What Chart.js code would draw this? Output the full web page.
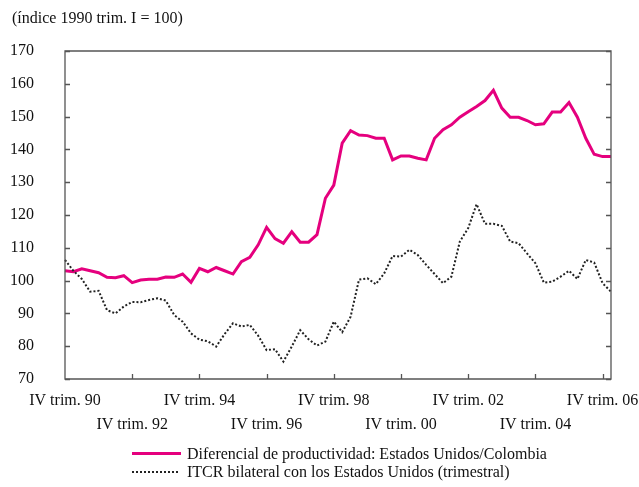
<!DOCTYPE html>
<html><head><meta charset="utf-8">
<script src="https://cdn.jsdelivr.net/npm/chart.js@4/dist/chart.umd.min.js"></script>
<style>
html,body{margin:0;padding:0;background:#fff;}
#wrap{position:relative;width:639px;height:487px;font-family:"Liberation Serif","Times New Roman",serif;color:#111;overflow:hidden;}
#c{position:absolute;left:0;top:0;}
.t{position:absolute;font-size:16px;line-height:20px;white-space:nowrap;}
.sw{position:absolute;}
</style></head>
<body>
<div id="wrap">
<canvas id="c" width="639" height="487"></canvas>
<div class="t" id="title" style="left:12px;top:8px;">(índice 1990 trim. I = 100)</div>
<div class="sw" style="left:132px;top:452px;width:49px;height:3px;background:#e5007e;"></div>
<div class="t" id="leg1" style="left:187px;top:444px;"></div>
<div class="sw" style="left:132px;top:471px;width:48px;height:2px;background:repeating-linear-gradient(to right,#222 0 2px,transparent 2px 4px);"></div>
<div class="t" id="leg2" style="left:187px;top:462px;"></div>
</div>
<script>
const seriesNames = [
  "Diferencial de productividad: Estados Unidos/Colombia",
  "ITCR bilateral con los Estados Unidos (trimestral)"
];
const categories = [
  "IV trim. 90","I trim. 91","II trim. 91","III trim. 91","IV trim. 91",
  "I trim. 92","II trim. 92","III trim. 92","IV trim. 92",
  "I trim. 93","II trim. 93","III trim. 93","IV trim. 93",
  "I trim. 94","II trim. 94","III trim. 94","IV trim. 94",
  "I trim. 95","II trim. 95","III trim. 95","IV trim. 95",
  "I trim. 96","II trim. 96","III trim. 96","IV trim. 96",
  "I trim. 97","II trim. 97","III trim. 97","IV trim. 97",
  "I trim. 98","II trim. 98","III trim. 98","IV trim. 98",
  "I trim. 99","II trim. 99","III trim. 99","IV trim. 99",
  "I trim. 00","II trim. 00","III trim. 00","IV trim. 00",
  "I trim. 01","II trim. 01","III trim. 01","IV trim. 01",
  "I trim. 02","II trim. 02","III trim. 02","IV trim. 02",
  "I trim. 03","II trim. 03","III trim. 03","IV trim. 03",
  "I trim. 04","II trim. 04","III trim. 04","IV trim. 04",
  "I trim. 05","II trim. 05","III trim. 05","IV trim. 05",
  "I trim. 06","II trim. 06","III trim. 06","IV trim. 06",
  "I trim. 07"
];
const tickLabelsRow1 = ["IV trim. 90","IV trim. 94","IV trim. 98","IV trim. 02","IV trim. 06"];
const tickLabelsRow2 = ["IV trim. 92","IV trim. 96","IV trim. 00","IV trim. 04"];
const productividad = [
  103.0,102.7,103.6,103.0,102.4,101.0,100.9,101.5,99.4,
  100.2,100.4,100.4,101.1,101.0,102.0,99.5,103.7,
  102.7,104.0,103.0,102.0,105.8,107.1,110.9,116.2,
  112.8,111.4,114.9,111.7,111.7,114.0,125.1,129.1,
  141.9,145.7,144.4,144.2,143.4,143.4,136.8,138.0,
  138.0,137.3,136.8,143.4,146.0,147.5,149.8,151.5,
  153.1,154.9,158.0,152.6,149.8,149.8,148.8,147.5,
  147.8,151.4,151.4,154.3,149.8,143.4,138.5,137.8,
  137.8
];
const itcr = [
  106.3,103.0,100.5,96.6,96.9,91.0,90.0,92.1,93.5,
  93.4,94.1,94.6,93.9,89.5,87.5,83.9,82.0,
  81.5,79.9,83.7,87.0,86.0,86.5,83.2,78.8,
  79.1,75.3,79.9,84.9,82.1,80.2,81.4,87.5,
  84.3,89.0,100.3,100.7,98.9,102.2,107.5,107.3,
  109.4,107.8,104.8,102.0,99.2,101.2,111.9,116.0,
  123.3,117.3,117.3,116.7,111.9,111.4,108.3,105.3,
  99.4,99.7,101.2,103.0,100.5,106.3,105.5,99.2,
  96.6
];
const yTicks = [70,80,90,100,110,120,130,140,150,160,170];

document.getElementById('leg1').textContent = seriesNames[0];
document.getElementById('leg2').textContent = seriesNames[1];

const FONT = {family:'"Liberation Serif","Times New Roman",serif', size:16, lineHeight:1.55};

const frame = {
  id:'frame',
  afterDatasetsDraw(chart){
    const {ctx, chartArea:a, scales:{x,y}} = chart;
    ctx.save();
    ctx.strokeStyle = '#555';
    ctx.lineWidth = 1.3;
    ctx.beginPath();
    ctx.rect(a.left, a.top, a.right-a.left, a.bottom-a.top);
    ctx.stroke();
    ctx.beginPath();
    yTicks.forEach(v=>{
      const py = Math.round(y.getPixelForValue(v))+0.5;
      ctx.moveTo(a.left, py); ctx.lineTo(a.left+5, py);
      ctx.moveTo(a.right, py); ctx.lineTo(a.right-5, py);
    });
    categories.forEach((c,i)=>{
      if (i%8===0 && i>0) {
        const px = Math.round(x.getPixelForValue(i))+0.5;
        ctx.moveTo(px, a.bottom); ctx.lineTo(px, a.bottom-5);
      }
    });
    ctx.stroke();
    ctx.restore();
  }
};

new Chart(document.getElementById('c'), {
  type:'line',
  data:{
    labels:categories,
    datasets:[
      {label:seriesNames[0], data:productividad, borderColor:'#e5007e', borderWidth:3, pointRadius:0, tension:0, fill:false, order:2},
      {label:seriesNames[1], data:itcr, borderColor:'#222', borderWidth:2, borderDash:[2,2], pointRadius:0, tension:0, fill:false, order:1}
    ]
  },
  options:{
    responsive:false,
    animation:false,
    devicePixelRatio:1,
    layout:{padding:{top:51, left:0, right:28, bottom:48}},
    plugins:{legend:{display:false}, tooltip:{enabled:false}, title:{display:false}},
    scales:{
      x:{
        type:'category',
        offset:false,
        grid:{display:false, drawTicks:false},
        border:{display:false},
        afterFit(s){ s.height = 60; s.paddingLeft = 0; s.paddingRight = 0; },
        ticks:{
          autoSkip:false, maxRotation:0, minRotation:0, padding:9,
          color:'#111', font:FONT,
          callback(v, i){
            if (i%16===0) return tickLabelsRow1[i/16];
            if (i%16===8) return ['', tickLabelsRow2[(i-8)/16]];
            return null;
          }
        }
      },
      y:{
        min:70, max:170,
        grid:{display:false, drawTicks:false},
        border:{display:false},
        afterFit(s){ s.width = 65; },
        ticks:{stepSize:10, padding:31, color:'#111', font:FONT,
          callback(v){ return yTicks.includes(v) ? String(v) : null; }}
      }
    }
  },
  plugins:[frame]
});
</script>
</body></html>
